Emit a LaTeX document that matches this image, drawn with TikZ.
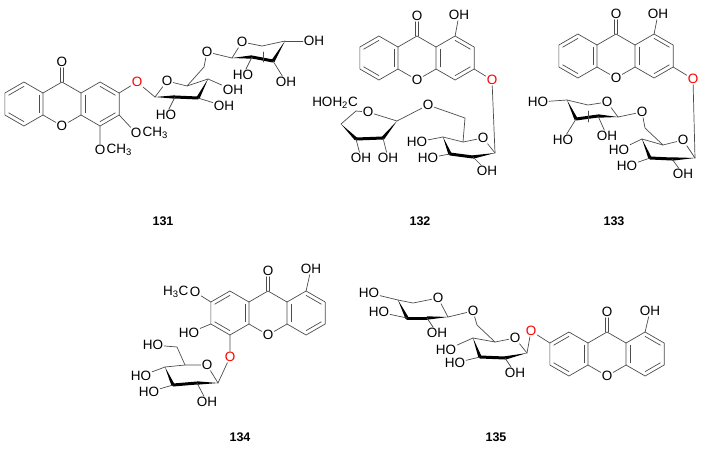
\documentclass[tikz,border=0pt]{standalone}
\usepackage{fontspec}
\setmainfont{Liberation Sans}
\usetikzlibrary{calc}
\tikzset{lab/.style={inner sep=0.6pt,text=black,font=\fontsize{13.5}{13.5}\selectfont},
 red/.style={text=red},
 bold/.style={line width=3pt,draw=black},
 num/.style={text=black,font=\fontsize{12.5}{12.5}\selectfont\bfseries}}
\newcommand\dbl[3]{\draw ($(#1)!0.2!(#3)$) -- ($(#2)!0.2!(#3)$);}
\newcommand\wdg[2]{\fill[black] (#1) -- ($(#2)!1.7pt!90:(#1)$) -- ($(#2)!1.7pt!-90:(#1)$) -- cycle;}
\newcommand\xan[3]{%
\path (#2,#3) coordinate (#1c)
 ({#2},{#3-22}) coordinate (#1C)
 ({#2+19.05},{#3-11}) coordinate (#1Rb)
 ({#2+19.05},{#3+11}) coordinate (#1Ra)
 ({#2+38.1},{#3-22}) coordinate (#1R1)
 ({#2+57.15},{#3-11}) coordinate (#1R2)
 ({#2+57.15},{#3+11}) coordinate (#1R3)
 ({#2+38.1},{#3+22}) coordinate (#1R4)
 ({#2+38.1},{#3}) coordinate (#1Rc)
 ({#2-19.05},{#3-11}) coordinate (#1Lb)
 ({#2-19.05},{#3+11}) coordinate (#1La)
 ({#2-38.1},{#3-22}) coordinate (#1L1)
 ({#2-57.15},{#3-11}) coordinate (#1L2)
 ({#2-57.15},{#3+11}) coordinate (#1L3)
 ({#2-38.1},{#3+22}) coordinate (#1L4)
 ({#2-38.1},{#3}) coordinate (#1Lc);
\node[lab] (#1O) at ({#2},{#3+22}) {O};
\node[lab] (#1CO) at ({#2},{#3-42}) {O};
\draw (#1C)--(#1Rb)--(#1Ra)--(#1O)--(#1La)--(#1Lb)--(#1C);
\draw (#1Rb)--(#1R1)--(#1R2)--(#1R3)--(#1R4)--(#1Ra);
\draw (#1Lb)--(#1L1)--(#1L2)--(#1L3)--(#1L4)--(#1La);
\dbl{#1Rb}{#1Ra}{#1Rc}\dbl{#1R1}{#1R2}{#1Rc}\dbl{#1R3}{#1R4}{#1Rc}
\dbl{#1Lb}{#1La}{#1Lc}\dbl{#1L1}{#1L2}{#1Lc}\dbl{#1L3}{#1L4}{#1Lc}
\draw ($(#1C)+(-1.6,0)$) -- ($(#1CO.south)+(-1.6,0)$);
\draw ($(#1C)+(1.6,0)$) -- ($(#1CO.south)+(1.6,0)$);}
\newcommand\pyr[7]{%
\path #2 coordinate (#1C1) #4 coordinate (#1C5) #5 coordinate (#1C4) #6 coordinate (#1C3) #7 coordinate (#1C2);
\node[lab] (#1O) at #3 {O};
\draw (#1C1)--(#1O)--(#1C5)--(#1C4);
\wdg{#1C1}{#1C2}\draw[bold] (#1C2)--(#1C3);\wdg{#1C4}{#1C3}}
\begin{document}
\begin{tikzpicture}[x=1pt,y=-1pt,line width=0.7pt,line cap=round,line join=round,draw=black!70]
\useasboundingbox (0,0) rectangle (702,451);
% ---------- 131
\xan{a}{62}{104}
\node[lab,red] (aOx) at (137,82) {O};
\draw (aR2)--(aOx);
\node[lab] (aM1) at (136,133) {O};
\node[lab,anchor=west,inner sep=0pt] (aM1b) at (aM1.east) {CH\textsubscript{3}};
\draw (aR3)--(aM1);
\node[lab] (aM2) at (100,150) {O};
\node[lab,anchor=west,inner sep=0pt] (aM2b) at (aM2.east) {CH\textsubscript{3}};
\draw (aR4)--(aM2);
\pyr{aA}{(155,97)}{(167,81)}{(187,86)}{(208,79)}{(198,98)}{(175,97)}
\draw (aOx)--(aAC1);
\node[lab] (aA2) at (166,115) {HO}; \draw (aAC2)--(aA2);
\node[lab] (aA3) at (224,106) {OH}; \draw (aAC3)--(aA3);
\node[lab] (aA4) at (233,90) {OH}; \draw (aAC4)--(aA4);
\coordinate (aA6) at (204,67);
\node[lab] (aA6O) at (207,52) {O};
\draw (aAC5)--(aA6)--(aA6O);
\pyr{aB}{(232,58)}{(242,42)}{(262,46)}{(285,41)}{(273,61)}{(252,57)}
\draw (aA6O)--(aBC1);
\node[lab] (aB4) at (314,41) {OH}; \draw (aBC4)--(aB4);
\node[lab] (aB3) at (286,82) {OH}; \draw (aBC3)--(aB3);
\node[lab] (aB2) at (243,75) {HO}; \draw (aBC2)--(aB2);
\draw (263,52)--(263,62);
\node[num] (n131) at (163,221) {131};
% ---------- 132
\xan{b}{417}{58}
\node[lab] (bOH) at (459,15) {OH}; \draw (bR1)--(bOH);
\node[lab,red] (bOx) at (492,80) {O}; \draw (bR3)--(bOx);
\pyr{bG}{(495,153)}{(483,138)}{(463,142)}{(443,137)}{(450,154)}{(473,157)}
\draw (bOx)--(bGC1);
\node[lab] (bG4) at (417,142) {HO}; \draw (bGC4)--(bG4);
\node[lab] (bG3) at (428,158) {HO}; \draw (bGC3)--(bG3);
\node[lab] (bG2) at (487,171) {OH}; \draw (bGC2)--(bG2);
\coordinate (bG6) at (465,118);
\node[lab] (bG6O) at (428,105) {O};
\draw (bGC5)--(bG6)--(bG6O);
\coordinate (bF1) at (397,121); \coordinate (bF2) at (383,138);
\coordinate (bF3) at (356,139); \coordinate (bFB) at (341,124); \coordinate (bF4) at (356,111);
\node[lab] (bFO) at (368,112) {O};
\node[lab] (bFH) at (335,103) {HOH\textsubscript{2}C};
\draw (bG6O)--(bF1)--(bFO)--(bF4);
\draw (bF4)--(bFB);
\wdg{bF1}{bF2}\draw[bold] (bF2)--(bF3);\wdg{bFB}{bF3}
\node[lab] (bF3O) at (361,158) {OH}; \draw (bF3)--(bF3O);
\node[lab] (bF2O) at (388,158) {OH}; \draw (bF2)--(bF2O);
\node[num] (n132) at (420,221) {132};
% ---------- 133
\xan{c}{616}{56}
\node[lab] (cOH) at (658,14) {OH}; \draw (cR1)--(cOH);
\node[lab,red] (cOx) at (693,79) {O}; \draw (cR3)--(cOx);
\pyr{cG}{(695,158)}{(683,140)}{(663,145)}{(642,139)}{(650,158)}{(672,159)}
\draw (cOx)--(cGC1);
\node[lab] (cG4) at (619,150) {HO}; \draw (cGC4)--(cG4);
\node[lab] (cG3) at (627,166) {HO}; \draw (cGC3)--(cG3);
\node[lab] (cG2) at (683,174) {OH}; \draw (cGC2)--(cG2);
\coordinate (cG6) at (645,128);
\node[lab] (cG6O) at (642,112) {O};
\draw (cGC5)--(cG6)--(cG6O);
\pyr{cH}{(618,117)}{(607,102)}{(588,105)}{(567,100)}{(576,119)}{(598,116)}
\draw (cG6O)--(cHC1);
\node[lab] (cH4) at (538,102) {HO}; \draw (cHC4)--(cH4);
\node[lab] (cH3) at (563,140) {HO}; \draw (cHC3)--(cH3);
\node[lab] (cH2) at (607,136) {OH}; \draw (cHC2)--(cH2);
\draw (588,111)--(588,122);
\node[num] (n133) at (614,221) {133};
% ---------- 134
\xan{d}{268}{313}
\node[lab] (dOH) at (311,269) {OH}; \draw (dR1)--(dOH);
\node[lab] (dMe) at (195,292) {O};
\node[lab,anchor=east,inner sep=0pt] (dMe2) at (dMe.west) {H\textsubscript{3}C};
\draw (dL2)--(dMe);
\node[lab] (dHO) at (189,333) {HO}; \draw (dL3)--(dHO);
\node[lab,red] (dOx) at (230,357) {O}; \draw (dL4)--(dOx);
\pyr{dG}{(218,383)}{(207,365)}{(185,365)}{(165,367)}{(173,385)}{(197,383)}
\draw (dOx)--(dGC1);
\coordinate (dG6) at (177,347);
\node[lab] (dG6O) at (153,345) {HO};
\draw (dGC5)--(dG6)--(dG6O);
\node[lab] (dG4) at (141,376) {HO}; \draw (dGC4)--(dG4);
\node[lab] (dG3) at (149,392) {HO}; \draw (dGC3)--(dG3);
\node[lab] (dG2) at (207,402) {OH}; \draw (dGC2)--(dG2);
\node[num] (n134) at (240,437) {134};
% ---------- 135
\xan{e}{607}{354}
\node[lab] (eOH) at (650,311) {OH}; \draw (eR1)--(eOH);
\node[lab,red] (eOx) at (531,331) {O}; \draw (eL2)--(eOx);
\pyr{eG}{(527,353)}{(515,338)}{(495,342)}{(473,338)}{(480,357)}{(505,358)}
\draw (eOx)--(eGC1);
\node[lab] (eG4) at (446,350) {HO}; \draw (eGC4)--(eG4);
\node[lab] (eG3) at (455,363) {HO}; \draw (eGC3)--(eG3);
\node[lab] (eG2) at (515,373) {OH}; \draw (eGC2)--(eG2);
\coordinate (eG6) at (477,325);
\node[lab] (eG6O) at (473,311) {O};
\draw (eGC5)--(eG6)--(eG6O);
\pyr{eX}{(448,317)}{(438,298)}{(413,303)}{(398,300)}{(407,318)}{(427,318)}
\draw (eG6O)--(eXC1);
\node[lab] (eX4) at (369,293) {HO}; \draw (eXC4)--(eX4);
\node[lab] (eX3) at (379,312) {HO}; \draw (eXC3)--(eX3);
\node[lab] (eX2) at (437,333) {OH}; \draw (eXC2)--(eX2);
\node[num] (n135) at (496,437) {135};
\end{tikzpicture}
\end{document}
